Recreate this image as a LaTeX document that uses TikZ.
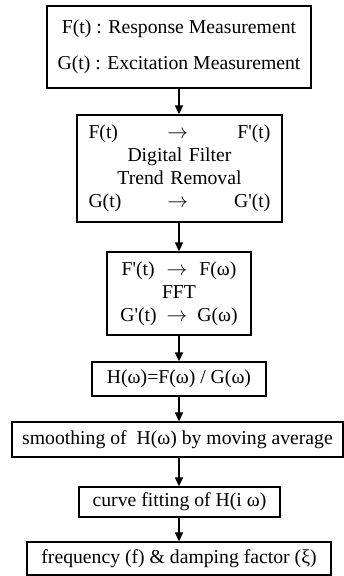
\documentclass[tikz,border=0pt]{standalone}
\usepackage{fontspec}
\setmainfont{Liberation Serif}
\usetikzlibrary{arrows.meta}

\newcommand{\pr}{\textquotesingle}
\newcommand{\tto}{$\rightarrow$}

\tikzset{
  stepbox/.style={draw, line width=1.3pt, inner sep=0pt, align=center,
    font=\fontsize{19.7}{23}\selectfont},
  flow/.style={-{Triangle[length=9pt,width=8pt]}, line width=1.6pt}
}

\begin{document}
\begin{tikzpicture}[x=1pt,y=-1pt]
  \useasboundingbox (0,0) rectangle (344,576);

  % 各处理步骤（自上而下）
  \node[stepbox, minimum width=264pt, minimum height=82pt] (meas) at (179,47)
    {F(t) : Response Measurement\\[13pt] G(t) : Excitation Measurement};
  \node[stepbox, minimum width=205pt, minimum height=107pt, text width=182pt] (filt) at (179.5,168.5)
    {F(t)\hfill \tto\hfill F\pr(t)\\ Digital Filter\\ Trend Removal\\ G(t)\hfill \tto\hfill G\pr(t)};
  \node[stepbox, minimum width=144pt, minimum height=83pt] (fft) at (179,293.5)
    {F\pr(t)\hspace{12pt}\tto\hspace{12pt}F(ω)\\ FFT\\ G\pr(t)\hspace{10pt}\tto\hspace{10pt}G(ω)};
  \node[stepbox, minimum width=174pt, minimum height=34pt] (ratio) at (179,379)
    {H(ω)=F(ω) / G(ω)};
  \node[stepbox, minimum width=331pt, minimum height=35pt] (smooth) at (177.5,439.5)
    {smoothing of \ H(ω) by moving average};
  \node[stepbox, minimum width=201pt, minimum height=30pt] (fit) at (179.5,502)
    {curve fitting of H(i ω)};
  \node[stepbox, minimum width=304pt, minimum height=33pt] (result) at (179,558.5)
    {frequency (f) \& damping factor (ξ)};

  % 连接箭头
  \foreach \a/\b in {meas/filt, filt/fft, fft/ratio, ratio/smooth, smooth/fit, fit/result}
    \draw[flow] (\a.south -| meas) -- (\b.north -| meas);
\end{tikzpicture}
\end{document}
